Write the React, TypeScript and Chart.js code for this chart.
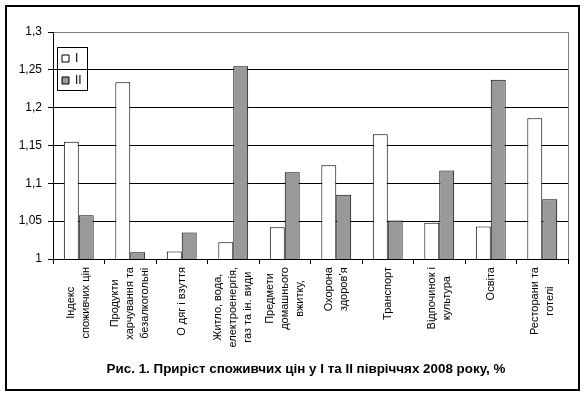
import React, { useEffect, useRef } from "react";
import { Chart, registerables } from "chart.js";

Chart.register(...registerables);

const categories: string[][] = [
  ["Індекс", "споживчих цін"],
  ["Продукти", "харчування та", "безалкогольні"],
  ["О дяг і взуття"],
  ["Житло, вода,", "електроенергія,", "газ та ін. види"],
  ["Предмети", "домашнього", "вжитку,"],
  ["Охорона", "здоров’я"],
  ["Транспорт"],
  ["Відпочинок і", "культура"],
  ["Освіта"],
  ["Ресторани та", "готелі"],
];

const seriesNames = ["I", "II"];
const firstHalf = [1.155, 1.2335, 1.01, 1.022, 1.042, 1.124, 1.165, 1.048, 1.043, 1.186];
const secondHalf = [1.058, 1.009, 1.035, 1.2547, 1.1146, 1.085, 1.051, 1.117, 1.237, 1.079];

const yMin = 1;
const yMax = 1.3;
const yStep = 0.05;

const titleText = "Рис. 1. Приріст споживчих цін у І та ІІ півріччях 2008 року, %";

const FONT = "Arial, 'Liberation Sans', sans-serif";

const framePlugin = {
  id: "frame",
  afterLayout(chart: any) {
    const l = chart.legend;
    if (l) {
      l.left = chart.chartArea.left - 1;
      l.right = l.left + l.width;
      l.top = 42.5;
      l.bottom = l.top + l.height;
    }
    const t = chart.titleBlock;
    if (t) {
      t.left = 44;
      t.width = t.right - t.left;
    }
  },
  beforeDraw(chart: any) {
    const xs = chart.scales.x;
    if (!xs || typeof xs.getLabelItems !== "function") return;
    const items = xs.getLabelItems(chart.chartArea);
    const ctx = chart.ctx;
    ctx.save();
    for (const it of items) {
      if (it.__adjusted) continue;
      const lines: string[] = Array.isArray(it.label) ? it.label : [String(it.label)];
      const n = lines.length;
      ctx.font = it.font.string;
      let maxW = 0;
      for (const s of lines) maxW = Math.max(maxW, ctx.measureText(s).width);
      it.options.translation[0] -= ((n - 1) / 2) * it.font.lineHeight;
      it.options.translation[1] += maxW / 2;
      it.options.textAlign = "center";
      it.__adjusted = true;
    }
    ctx.restore();
  },
  afterDraw(chart: any) {
    const ctx = chart.ctx;
    ctx.save();
    ctx.strokeStyle = "#000";
    ctx.lineWidth = 2;
    ctx.strokeRect(6, 6, 573, 384);
    const l = chart.legend;
    if (l && l.legendHitBoxes && l.legendHitBoxes.length) {
      const hb = l.legendHitBoxes;
      let minL = Infinity, maxR = -Infinity, minT = Infinity, maxB = -Infinity;
      for (const h of hb) {
        minL = Math.min(minL, h.left);
        maxR = Math.max(maxR, h.left + h.width);
        minT = Math.min(minT, h.top);
        maxB = Math.max(maxB, h.top + h.height);
      }
      ctx.lineWidth = 1;
      const x0 = Math.round(minL - 5) + 0.5;
      const y0 = Math.round(minT - 5.5) + 0.5;
      const x1 = Math.round(maxR + 5) + 0.5;
      const y1 = Math.round(maxB + 3.5) + 0.5;
      ctx.strokeRect(x0, y0, x1 - x0, y1 - y0);
    }
    ctx.restore();
  },
};

export default function App() {
  const ref = useRef<HTMLCanvasElement | null>(null);

  useEffect(() => {
    document.body.style.margin = "0";
    if (!ref.current) return;
    Chart.defaults.color = "#000";
    const chart = new Chart(ref.current, {
      type: "bar",
      data: {
        labels: categories,
        datasets: [
          {
            label: seriesNames[0],
            data: firstHalf,
            backgroundColor: "#ffffff",
            borderColor: "#000000",
            borderWidth: 1,
            barPercentage: 1,
            categoryPercentage: 0.58,
          },
          {
            label: seriesNames[1],
            data: secondHalf,
            backgroundColor: "#999999",
            borderColor: "#000000",
            borderWidth: 1,
            barPercentage: 1,
            categoryPercentage: 0.58,
          },
        ],
      },
      options: {
        responsive: false,
        animation: false,
        layout: { padding: { top: 32, left: 0, right: 18, bottom: 0 } },
        plugins: {
          legend: {
            position: "chartArea" as any,
            align: "start",
            labels: {
              boxWidth: 7,
              boxHeight: 7,
              padding: 10,
              color: "#000",
              font: { family: FONT, size: 12 },
            },
          },
          title: {
            display: true,
            position: "bottom",
            text: titleText,
            color: "#000",
            font: { family: FONT, size: 13.4, weight: "bold" },
            padding: { top: 0, bottom: 19 },
          },
          tooltip: { enabled: false },
        },
        scales: {
          x: {
            afterFit(scale: any) {
              scale.height = 101.9;
            },
            grid: {
              offset: true,
              drawOnChartArea: true,
              color: (ctx: any) => (ctx.tick ? "rgba(0,0,0,0)" : "#808080"),
              tickColor: "#000",
              tickLength: 5,
            },
            border: { display: true, color: "#000" },
            ticks: {
              maxRotation: 90,
              minRotation: 90,
              autoSkip: false,
              padding: 3,
              color: "#000",
              font: { family: FONT, size: 11, lineHeight: 1.35 },
            },
          },
          y: {
            min: yMin,
            max: yMax,
            afterFit(scale: any) {
              scale.width = 53;
            },
            grid: {
              color: (ctx: any) => (ctx.tick && Math.abs(ctx.tick.value - yMax) < 1e-6 ? "#808080" : "#000"),
              tickColor: "#000",
              tickLength: 5,
            },
            border: { display: true, color: "#000" },
            ticks: {
              stepSize: yStep,
              padding: 6,
              color: "#000",
              font: { family: FONT, size: 12 },
              callback: (v: any) => String(Number(Number(v).toFixed(2))).replace(".", ","),
            },
          },
        },
      },
      plugins: [framePlugin],
    });
    return () => chart.destroy();
  }, []);

  return (
    <div style={{ width: 586, height: 396 }}>
      <canvas ref={ref} width={586} height={396} style={{ display: "block" }} />
    </div>
  );
}
